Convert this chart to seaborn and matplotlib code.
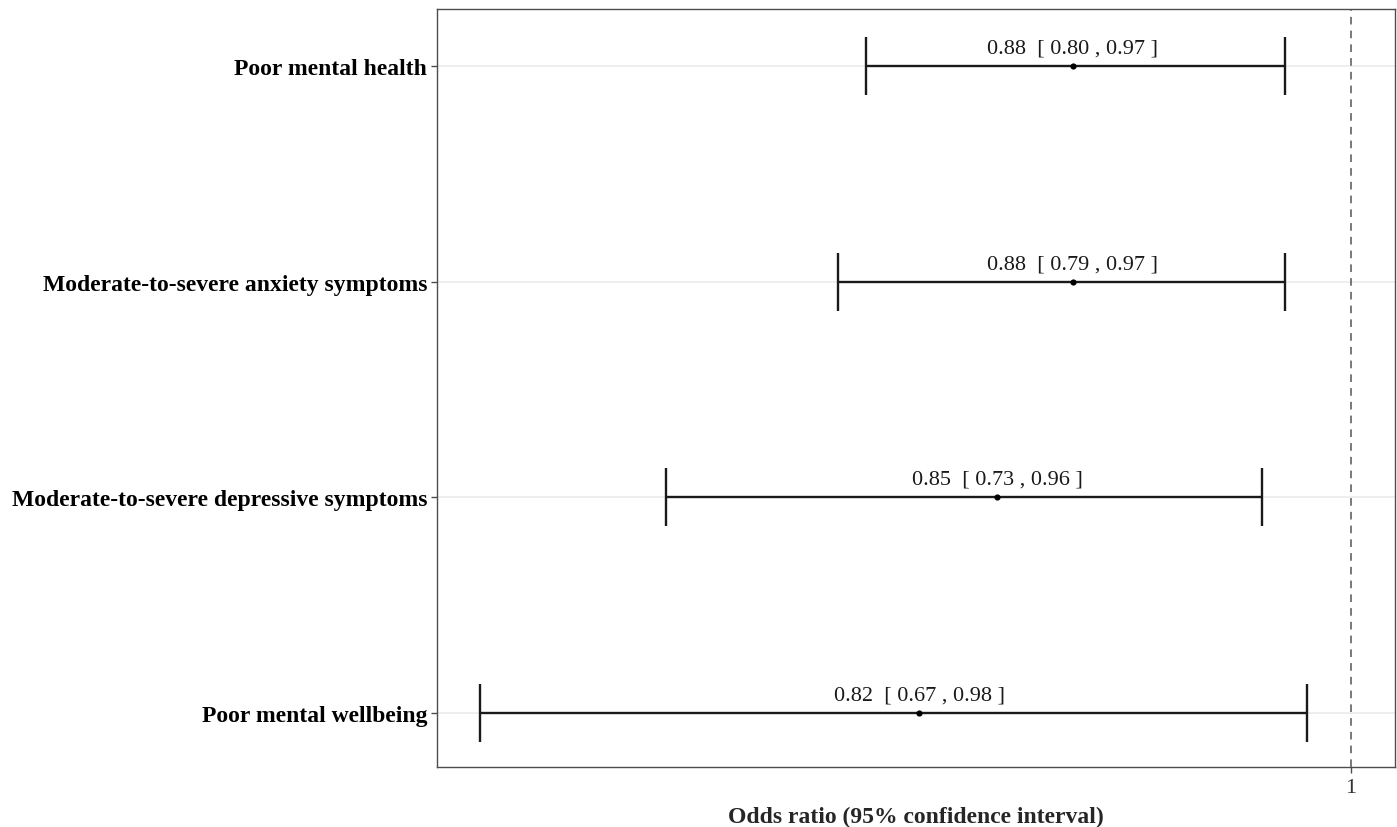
import numpy as np
import pandas as pd
import matplotlib
matplotlib.use("Agg")
import matplotlib.pyplot as plt
import seaborn as sns

# values
outcomes = ["Poor mental health",
            "Moderate-to-severe anxiety symptoms",
            "Moderate-to-severe depressive symptoms",
            "Poor mental wellbeing"]
odds_ratio = [0.88, 0.88, 0.85, 0.82]
ci_low = [0.80, 0.79, 0.73, 0.67]
ci_high = [0.97, 0.97, 0.96, 0.98]

df = pd.DataFrame({"outcome": outcomes, "or": odds_ratio,
                   "lo": ci_low, "hi": ci_high})
df["pos"] = np.arange(len(df))

sns.set_theme(style="white")
plt.rcParams["font.family"] = ["Liberation Serif", "DejaVu Serif"]

fig = plt.figure(figsize=(13.97, 8.28), dpi=100)
ax = fig.add_axes([0.3128, 0.0725, 0.6858, 0.9154])

# horizontal grid lines at each outcome
for p in df["pos"]:
    ax.axhline(p, color="#ebebeb", lw=1.2, zorder=0)

ax.axvline(1, color="#555555", lw=1.1, ls=(0, (5, 4)), zorder=1)

ax.errorbar(df["or"], df["pos"],
            xerr=[df["or"] - df["lo"], df["hi"] - df["or"]],
            fmt="none", ecolor="#1a1a1a", elinewidth=1.7,
            capsize=21, capthick=1.7, zorder=2)
sns.scatterplot(data=df, x="or", y="pos", color="black", s=20,
                edgecolor="black", linewidth=0, ax=ax, zorder=3)

for _, r in df.iterrows():
    ax.annotate(f"{r['or']:.2f}  [ {r['lo']:.2f} , {r['hi']:.2f} ]",
                (r["or"], r["pos"]), xytext=(0, 6), textcoords="offset points",
                ha="center", va="bottom", fontsize=16, color="#1a1a1a")

ax.set_xscale("log")
ax.set_xlim(0.657, 1.0204)
ax.set_ylim(3.251, -0.264)
ax.set_xticks([1])
ax.set_xticklabels(["1"])
ax.minorticks_off()
ax.set_yticks(df["pos"])
ax.set_yticklabels(df["outcome"], fontweight="bold", fontsize=17, color="black")
ax.tick_params(axis="x", labelsize=16, colors="#4d4d4d", length=4, width=1,
               direction="out", bottom=True, pad=4)
ax.tick_params(axis="y", colors="#4d4d4d", length=4, width=1,
               direction="out", left=True, pad=3)
for lbl in ax.get_yticklabels():
    lbl.set_color("black")
for lbl in ax.get_xticklabels():
    lbl.set_color("#333333")
ax.set_xlabel("Odds ratio (95% confidence interval)", fontweight="bold",
              fontsize=17, labelpad=6)
ax.set_ylabel("")
for s in ax.spines.values():
    s.set_color("#4d4d4d")
    s.set_linewidth(1.0)

fig.savefig("out.png", dpi=100)
